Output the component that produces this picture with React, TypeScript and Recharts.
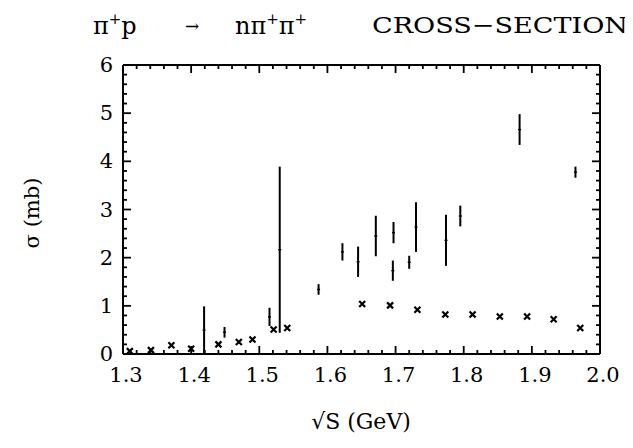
import React from 'react'
import {
  ScatterChart, Scatter, XAxis, YAxis, ErrorBar,
} from 'recharts'

// crosses (x marks)
const crossX = [1.310, 1.341, 1.371, 1.400, 1.440, 1.470, 1.490, 1.521, 1.541, 1.651, 1.692, 1.732, 1.773, 1.813, 1.853, 1.893, 1.932, 1.971]
const crossY = [0.06, 0.08, 0.18, 0.11, 0.20, 0.25, 0.30, 0.51, 0.54, 1.04, 1.01, 0.92, 0.82, 0.82, 0.78, 0.78, 0.72, 0.54]

// vertical error bars (low / high ends)
const barX    = [1.419, 1.449, 1.515, 1.530, 1.587, 1.622, 1.645, 1.671, 1.697, 1.696, 1.720, 1.730, 1.774, 1.795, 1.882, 1.964]
const barLow  = [0.00, 0.34, 0.58, 0.44, 1.23, 1.94, 1.60, 2.03, 2.30, 1.52, 1.77, 2.12, 1.83, 2.65, 4.34, 3.66]
const barHigh = [0.99, 0.56, 0.96, 3.89, 1.45, 2.30, 2.23, 2.87, 2.74, 1.94, 2.04, 3.15, 2.89, 3.08, 4.98, 3.89]

const xMajor = [1.3, 1.4, 1.5, 1.6, 1.7, 1.8, 1.9, 2.0]
const xLabels = ['1.3', '1.4', '1.5', '1.6', '1.7', '1.8', '1.9', '2.0']
const yMajor = [0, 1, 2, 3, 4, 5, 6]
const yLabels = ['0', '1', '2', '3', '4', '5', '6']

// minor ticks every 0.02 / 0.2
const xTicks = Array.from({ length: 36 }, (_, i) => Math.round((1.3 + i * 0.02) * 100) / 100)
const yTicks = Array.from({ length: 31 }, (_, i) => Math.round(i * 0.2 * 10) / 10)

const crossData = crossX.map((x, i) => ({ x, y: crossY[i] }))
const barData = barX.map((x, i) => ({
  x,
  y: (barLow[i] + barHigh[i]) / 2,
  err: (barHigh[i] - barLow[i]) / 2,
}))

// frame tick marks, placed through the same scales as the data
const bottomTicks = xTicks.map((x) => ({ x, y: 0 }))
const topTicks = xTicks.map((x) => ({ x, y: 6 }))
const leftTicks = yTicks.map((y) => ({ x: 1.3, y }))
const rightTicks = yTicks.map((y) => ({ x: 2.0, y }))

const FONT = '"DejaVu Serif", serif'

function majorIndex(v: number, list: number[]) {
  return list.findIndex((m) => Math.abs(m - v) < 1e-6)
}

const tickLen = (v: number, list: number[]) => (majorIndex(v, list) >= 0 ? 8 : 4)

const renderBottomTick = (p: any) => (
  <path d={`M${p.cx},${p.cy}v${-tickLen(p.payload.x, xMajor)}`} stroke="#000" strokeWidth={1.8} />
)
const renderTopTick = (p: any) => (
  <path d={`M${p.cx},${p.cy}v${tickLen(p.payload.x, xMajor)}`} stroke="#000" strokeWidth={1.8} />
)
const renderLeftTick = (p: any) => (
  <path d={`M${p.cx},${p.cy}h${tickLen(p.payload.y, yMajor)}`} stroke="#000" strokeWidth={1.8} />
)
const renderRightTick = (p: any) => (
  <path d={`M${p.cx},${p.cy}h${-tickLen(p.payload.y, yMajor)}`} stroke="#000" strokeWidth={1.8} />
)

function BottomLabel(props: any) {
  const idx = majorIndex(props.payload.value, xMajor)
  if (idx < 0) return <g />
  return (
    <text x={Number(props.x) + 3} y={Number(props.y) + 28} textAnchor="middle" fontFamily={FONT} fontSize={21} fill="#000">
      {xLabels[idx]}
    </text>
  )
}

function LeftLabel(props: any) {
  const idx = majorIndex(props.payload.value, yMajor)
  if (idx < 0) return <g />
  return (
    <text x={Number(props.x) - 10} y={Number(props.y) + 7} textAnchor="end" fontFamily={FONT} fontSize={21} fill="#000">
      {yLabels[idx]}
    </text>
  )
}

const renderXMark = (props: any) => {
  const { cx, cy } = props
  const s = 3
  return (
    <path
      d={`M${cx - s},${cy - s}L${cx + s},${cy + s}M${cx - s},${cy + s}L${cx + s},${cy - s}`}
      stroke="#000" strokeWidth={2.2} fill="none"
    />
  )
}

const renderCenter = (props: any) => {
  const { cx, cy } = props
  return <path d={`M${cx - 1.5},${cy}L${cx + 1.5},${cy}`} stroke="#000" strokeWidth={1.4} />
}

function TitleLabel() {
  return (
    <g fontFamily={FONT} fill="#000">
      <text x={85} y={26} fontSize={24}>
        <tspan>π</tspan>
        <tspan dy={-10} fontSize={15}>+</tspan>
        <tspan dy={10}>p</tspan>
      </text>
      <text x={177} y={24} fontSize={17}>→</text>
      <text x={227} y={26} fontSize={24}>
        <tspan>nπ</tspan>
        <tspan dy={-10} fontSize={15}>+</tspan>
        <tspan dy={10}>π</tspan>
        <tspan dy={-10} fontSize={15}>+</tspan>
      </text>
      <text x={364} y={25} fontSize={23} textLength={256} lengthAdjust="spacingAndGlyphs">
        CROSS−SECTION
      </text>
    </g>
  )
}

function XTitle() {
  return (
    <text x={353} y={421} textAnchor="middle" fontFamily={FONT} fontSize={22} fill="#000">
      √S  (GeV)
    </text>
  )
}

function YTitle() {
  return (
    <text
      x={24} y={205} dy={7} textAnchor="middle" fontFamily={FONT} fontSize={21} fill="#000"
      transform="rotate(-90 24 205)"
    >
      σ  (mb)
    </text>
  )
}

export default function App() {
  return (
    <ScatterChart width={617} height={440} margin={{ top: 47, right: 15, bottom: 54, left: 75 }}>
      <XAxis
        xAxisId="b" dataKey="x" type="number" orientation="bottom" domain={[1.3, 2.0]}
        allowDataOverflow ticks={xTicks} interval={0} tickSize={0} tickMargin={0}
        tickLine={false} height={40} tick={(p: any) => <BottomLabel {...p} />}
        axisLine={{ stroke: '#000', strokeWidth: 2 }}
        label={{ content: <XTitle /> }}
      />
      <XAxis
        xAxisId="t" dataKey="x" type="number" orientation="top" domain={[1.3, 2.0]}
        allowDataOverflow ticks={xMajor} tickLine={false} tick={false} height={10}
        axisLine={{ stroke: '#000', strokeWidth: 2 }}
        label={{ content: <TitleLabel /> }}
      />
      <YAxis
        yAxisId="l" dataKey="y" type="number" orientation="left" domain={[0, 6]}
        allowDataOverflow ticks={yTicks} interval={0} tickSize={0} tickMargin={0}
        tickLine={false} width={40} tick={(p: any) => <LeftLabel {...p} />}
        axisLine={{ stroke: '#000', strokeWidth: 2 }}
        label={{ content: <YTitle /> }}
      />
      <YAxis
        yAxisId="r" dataKey="y" type="number" orientation="right" domain={[0, 6]}
        allowDataOverflow ticks={yMajor} tickLine={false} tick={false} width={10}
        axisLine={{ stroke: '#000', strokeWidth: 2 }}
      />
      <Scatter data={bottomTicks} xAxisId="b" yAxisId="l" shape={renderBottomTick} isAnimationActive={false} />
      <Scatter data={topTicks} xAxisId="b" yAxisId="l" shape={renderTopTick} isAnimationActive={false} />
      <Scatter data={leftTicks} xAxisId="b" yAxisId="l" shape={renderLeftTick} isAnimationActive={false} />
      <Scatter data={rightTicks} xAxisId="b" yAxisId="l" shape={renderRightTick} isAnimationActive={false} />
      <Scatter
        data={crossData} xAxisId="b" yAxisId="l" shape={renderXMark}
        isAnimationActive={false}
      />
      <Scatter
        data={barData} xAxisId="t" yAxisId="r" shape={renderCenter}
        isAnimationActive={false}
      >
        <ErrorBar dataKey="err" direction="y" width={0} stroke="#000" strokeWidth={2} isAnimationActive={false} />
      </Scatter>
    </ScatterChart>
  )
}
